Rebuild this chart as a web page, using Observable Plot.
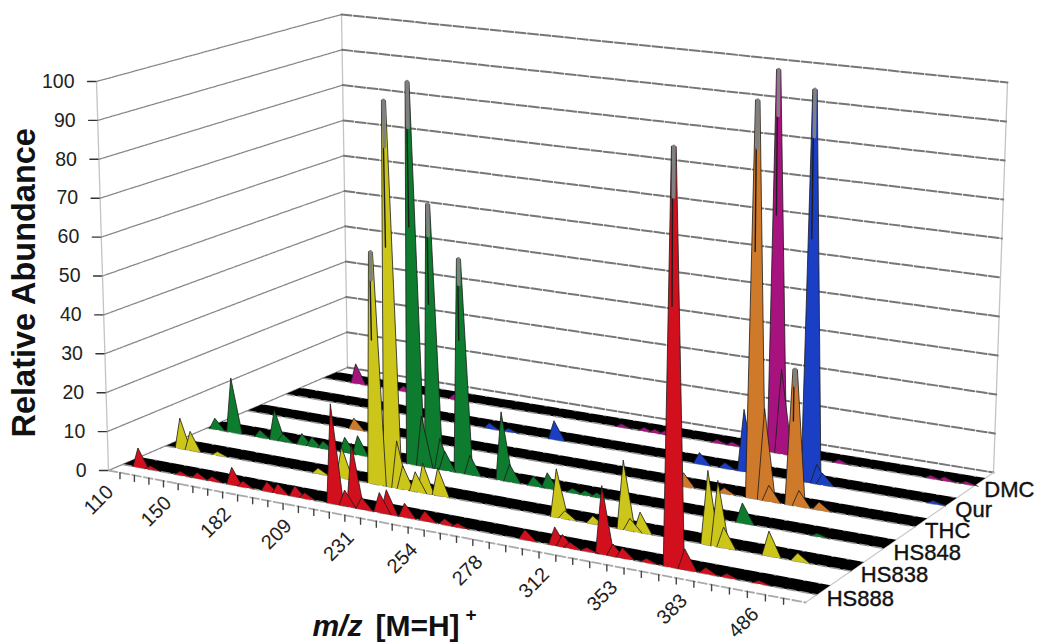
<!DOCTYPE html>
<html><head><meta charset="utf-8">
<script src="https://cdn.jsdelivr.net/npm/d3@7"></script>
<script src="https://cdn.jsdelivr.net/npm/@observablehq/plot@0.6"></script>
<style>html,body{margin:0;padding:0;background:#fff}svg{display:block}</style>
</head><body><div id="chart"></div>
<script>
// ---- data (each peak: [bin position along the m/z axis, relative abundance]) ----
const seriesNames = ["HS888","HS838","HS848","THC","Qur","DMC"];
const mzLabels = ["110","150","182","209","231","254","278","312","353","383","486"];
const abundanceTicks = [0,10,20,30,40,50,60,70,80,90,100];
const hs888 = [[.31,5],[1.14,1],[3.2,1],[4.36,1.5],[5.37,1.2],[6.72,4.5],[7.45,1.5],[9.05,2.5],[9.78,2.5],[10.9,2.8],[11.55,1.5],[13.36,25],[14.15,4],[14.66,16],[15.24,3],[16.38,5],[16.83,6],[17.97,3.5],[19.23,2.5],[20.47,1.5],[21.27,1],[25.4,2.5],[27.2,4.5],[27.66,3],[28.1,1.5],[29.1,1],[30,16.5],[30.65,3],[31.2,2.5],[32.6,1],[34.07,100],[34.8,5],[36,1.5],[37.2,1],[39,.8]];
const hs838 = [[.26,8],[.96,5],[2.84,1],[9.7,1.5],[11.3,8],[13.49,59],[14.53,98],[14.94,12],[15.3,6],[16.1,5],[16.6,7.5],[17.56,7],[25,12],[25.5,2],[27.2,2],[29.05,17],[29.44,3],[30.05,5],[34.02,18],[34.6,16],[34.96,5],[37.56,6],[39.2,2]];
const hs848 = [[-.23,3],[.98,14.5],[2.95,2],[4,8],[4.56,2],[5.88,3],[6.56,2.5],[7.33,2],[8.82,4],[9.7,5],[13.46,99],[14,13],[14.66,68],[15.2,8],[15.5,5],[16.6,55],[17.15,5],[19.2,17.5],[19.7,4.5],[21.2,2.5],[22.1,4],[23.67,1.2],[24.47,1.2],[25.2,1.2],[34.02,5],[38.4,.8]];
const thc = [[6.79,3],[28.4,3.5],[30.9,1.5],[32.7,100],[33.3,23],[33.6,4],[35.07,34],[35.4,4],[36.6,2]];
const qur = [[13.55,1.5],[14.84,1],[17.9,5],[27.3,3],[28.9,1.5],[30.07,16],[34.1,100],[34.55,5],[34.9,3],[41.5,.8]];
const dmc = [[1.63,5.5],[5.05,1.5],[8.64,1.5],[20.1,1],[21.6,1],[22.3,1],[22.95,1],[26.35,1],[27.3,1],[30.05,100],[30.4,22],[34.02,1],[39.6,.8],[40.4,1],[41.7,.8]];
const seriesPeaks = [hs888,hs838,hs848,thc,qur,dmc];
const tickCount = 42, labelEvery = 4;

// ---- 3D box projection: floor and top are two perspective quads ----
function quad([x0,y0],[x1,y1],[x2,y2],[x3,y3]){ // (u,v) = 00,10,01,11
  const dx1=x1-x3,dx2=x2-x3,sx=x0-x1+x3-x2,dy1=y1-y3,dy2=y2-y3,sy=y0-y1+y3-y2;
  const det=dx1*dy2-dx2*dy1,g=(sx*dy2-dx2*sy)/det,h=(dx1*sy-sx*dy1)/det;
  return (u,v)=>{const w=1+g*u+h*v;
    return [(x0+(x1-x0+g*x1)*u+(x2-x0+h*x2)*v)/w,(y0+(y1-y0+g*y1)*u+(y2-y0+h*y2)*v)/w];};
}
const floorQ = quad([108,470],[805,602],[347,367],[993,472]);
const topQ   = quad([96,81],[815,170],[341,14],[1007,82]);
const project=(u,v,z)=>{const a=floorQ(u,v),b=topQ(u,v),t=z/100;return [a[0]+(b[0]-a[0])*t,a[1]+(b[1]-a[1])*t];};
const U=k=>(k+.8)/43, V=i=>(i+.32)/6, STRIP=.066;
const X=d=>d.p[0], Y=d=>d.p[1];
const pt=(u,v,z,extra={})=>({p:project(u,v,z),...extra});

// walls
const backGrid=abundanceTicks.flatMap(z=>[pt(0,1,z,{z}),pt(1,1,z,{z})]);
const leftGrid=abundanceTicks.flatMap(z=>[pt(0,0,z,{z}),pt(0,1,z,{z})]);
const edges=[[0,0],[0,1],[1,1]].flatMap(([u,v],i)=>[pt(u,v,0,{z:i}),pt(u,v,100,{z:i})]);
const floorEdge=[pt(0,0,0),pt(1,0,0)];
const rightEdge=[pt(1,0,0),pt(1,1,0)];

// strips
const strips=seriesNames.flatMap((n,i)=>[pt(0,V(i),0,{z:n}),pt(1,V(i),0,{z:n}),pt(1,V(i)+STRIP,0,{z:n}),pt(0,V(i)+STRIP,0,{z:n})]);
const stripFront=seriesNames.flatMap((n,i)=>[pt(0,V(i),0,{z:n}),pt(1,V(i),0,{z:n})]);
const stripBack=seriesNames.flatMap((n,i)=>[pt(0,V(i)+STRIP,0,{z:n}),pt(1,V(i)+STRIP,0,{z:n})]);

// peaks, back row first, tall ones first inside a row
const polys=[],tips=[],cores=[];
for(let i=seriesNames.length-1;i>=0;i--){
  const v=V(i),name=seriesNames[i];
  [...seriesPeaks[i]].sort((a,b)=>b[1]-a[1]).forEach(([k,val],j)=>{
    const id=name+j, top=val>30?.13:0;
    const shape=top?[[k-.5,0],[k-top,val],[k+top,val],[k+.72,0]]:[[k-.38,0],[k,val],[k+.72,0]];
    shape.forEach(([kk,z])=>polys.push(pt(U(kk),v,z,{id,series:name})));
    if(val>=30){
      tips.push(pt(U(k),v,val*.88,{id}),pt(U(k),v,val,{id}));
      cores.push(pt(U(k-.06),v,val*.62,{id}),pt(U(k-.06),v,val*.88,{id}));
    }
  });
}

// axis ticks
const mzTicks=d3.range(tickCount).map(k=>({k,p:project(U(k),0,0)}));
const mzTickLines=mzTicks.flatMap(t=>[{p:t.p,z:t.k},{p:[t.p[0],t.p[1]+6],z:t.k}]);
const mzLabelRows=mzLabels.map((label,j)=>({label,p:mzTicks[j*labelEvery].p}));
const yTicks=abundanceTicks.map(z=>({z,p:project(0,0,z)}));
const yTickLines=yTicks.flatMap(t=>[{p:[t.p[0]-9,t.p[1]],z:t.z},{p:[t.p[0]-1,t.p[1]],z:t.z}]);
const seriesLabelRows=seriesNames.map((label,i)=>({label,p:project(1,V(i),0)}));

const font="Liberation Sans, Arial, sans-serif";
const axisMid=project(.5,0,0), yMid=project(0,0,48);

const chart=Plot.plot({
  width:1037,height:643,margin:0,
  style:{background:"#fff",fontFamily:font},
  x:{domain:[0,1037],range:[0,1037],axis:null},
  y:{domain:[0,643],range:[0,643],axis:null},
  color:{type:"ordinal",domain:seriesNames,range:["#d20f1c","#cdc61a","#0e7c2e","#cf7a2a","#1b3fc4","#a6137f"]},
  marks:[
    Plot.line(edges,{x:X,y:Y,z:"z",stroke:"#c4c4c4",strokeWidth:1.3}),
    Plot.line(leftGrid,{x:X,y:Y,z:"z",stroke:"#888",strokeWidth:1.3,strokeDasharray:"3 1"}),
    Plot.line(backGrid,{x:X,y:Y,z:"z",stroke:"#777",strokeWidth:2,strokeDasharray:"10 2.5"}),
    Plot.line(rightEdge,{x:X,y:Y,stroke:"#c8c8c8",strokeWidth:1.2}),
    Plot.line(floorEdge,{x:X,y:Y,stroke:"#aaa",strokeWidth:1.8,strokeDasharray:"9 3"}),
    Plot.line(strips,{x:X,y:Y,z:"z",fill:"#000",stroke:"none"}),
    Plot.line(stripFront,{x:X,y:Y,z:"z",stroke:"#999",strokeWidth:1.5,strokeDasharray:"9 4"}),
    Plot.line(stripBack,{x:X,y:Y,z:"z",stroke:"#bbb",strokeWidth:1,strokeDasharray:"2 13"}),
    Plot.line(polys,{x:X,y:Y,z:"id",fill:"series",stroke:"#1a1a1a",strokeWidth:.8}),
    Plot.line(cores,{x:X,y:Y,z:"id",stroke:"#1c1c1c",strokeWidth:1.4}),
    Plot.line(tips,{x:X,y:Y,z:"id",stroke:"#808080",strokeWidth:3.6}),
    Plot.line(mzTickLines,{x:X,y:Y,z:"z",stroke:"#444",strokeWidth:1.4}),
    Plot.line(yTickLines,{x:X,y:Y,z:"z",stroke:"#333",strokeWidth:1.4}),
    Plot.text(yTicks,{x:d=>d.p[0]-22,y:Y,text:d=>String(d.z),textAnchor:"end",fontSize:19.5,fill:"#222",fontFamily:font}),
    Plot.text(mzLabelRows,{x:d=>d.p[0]-10,y:d=>d.p[1]+16,text:"label",rotate:-45,textAnchor:"end",fontSize:20,fill:"#222",fontFamily:font}),
    Plot.text(seriesLabelRows,{x:d=>d.p[0]+10,y:d=>d.p[1]+4,text:"label",textAnchor:"start",fontSize:22,fill:"#111",stroke:"#111",strokeWidth:.4,fontFamily:font,letterSpacing:-1.3}),
    Plot.text(["Relative Abundance"],{x:()=>yMid[0]-78,y:()=>yMid[1]-1,text:d=>d,rotate:-90,fontSize:32.5,fontWeight:"bold",fill:"#111",fontFamily:font}),
    Plot.text(["m/z"],{x:()=>axisMid[0]-73,y:()=>axisMid[1]+94,text:d=>d,textAnchor:"end",fontSize:30,fontWeight:"bold",fontStyle:"italic",fill:"#111",fontFamily:font}),
    Plot.text(["[M=H]"],{x:()=>axisMid[0]-60,y:()=>axisMid[1]+94,text:d=>d,textAnchor:"start",fontSize:30,fontWeight:"bold",fill:"#111",fontFamily:font}),
    Plot.text(["+"],{x:()=>axisMid[0]+30,y:()=>axisMid[1]+82,text:d=>d,textAnchor:"start",fontSize:19,fontWeight:"bold",fill:"#111",fontFamily:font})
  ]
});
document.getElementById("chart").append(chart);
</script></body></html>
